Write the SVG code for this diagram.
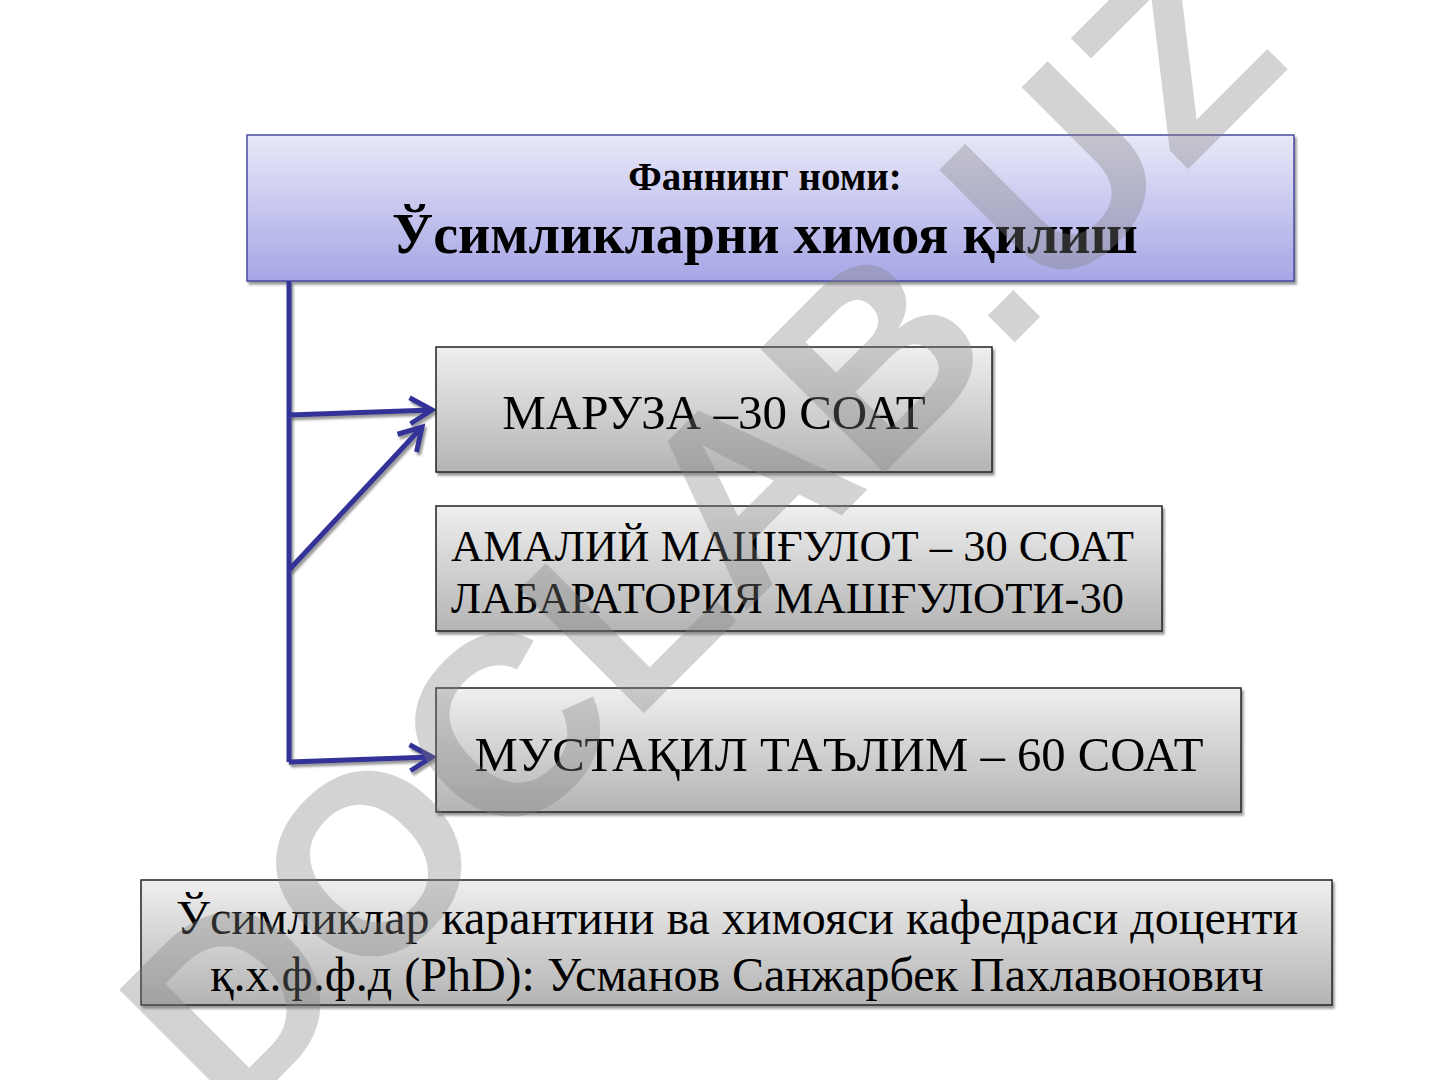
<svg xmlns="http://www.w3.org/2000/svg" width="1440" height="1080" viewBox="0 0 1440 1080">
<defs>
<linearGradient id="gBlue" x1="0" y1="0" x2="0" y2="1">
<stop offset="0" stop-color="#e8e8f8"/>
<stop offset="1" stop-color="#a6a6e6"/>
</linearGradient>
<linearGradient id="gGray" x1="0" y1="0" x2="0" y2="1">
<stop offset="0" stop-color="#efefef"/>
<stop offset="1" stop-color="#b4b4b4"/>
</linearGradient>
<filter id="sh" filterUnits="userSpaceOnUse" x="0" y="0" width="1440" height="1080">
<feDropShadow dx="2" dy="3" stdDeviation="1.2" flood-color="#555" flood-opacity="0.6"/>
</filter>
<marker id="arr" markerUnits="userSpaceOnUse" markerWidth="40" markerHeight="40" viewBox="-30 -20 40 40" refX="0" refY="0" orient="auto">
<path d="M-22,-13 L0,0 L-22,13" fill="none" stroke="#333399" stroke-width="5"/>
</marker>
</defs>
<style>
.box{stroke:#222;stroke-width:1.5;fill:url(#gGray);filter:url(#sh)}
.t{font-family:"Liberation Serif","Times New Roman",serif;fill:#000}
.c{fill:none;stroke:#333399;stroke-width:5;filter:url(#sh)}
</style>
<rect width="1440" height="1080" fill="#fff"/>
<g id="title">
<rect x="247" y="135" width="1047" height="146" fill="url(#gBlue)" stroke="#4a4aa0" stroke-width="1.5" filter="url(#sh)"/>
<text class="t" x="765" y="190" font-size="39" font-weight="bold" text-anchor="middle">Фаннинг номи:</text>
<text class="t" x="765" y="253" font-size="56" font-weight="bold" text-anchor="middle">Ўсимликларни химоя қилиш</text>
</g>
<g id="connectors">
<path class="c" d="M289,281 L289,762"/>
<path class="c" d="M289,415 L432,410" marker-end="url(#arr)"/>
<path class="c" d="M289,570 L422,427" marker-end="url(#arr)"/>
<path class="c" d="M289,762 L432,757" marker-end="url(#arr)"/>
</g>
<g id="maruza">
<rect class="box" x="436" y="347" width="556" height="125"/>
<text class="t" x="714" y="429" font-size="49" text-anchor="middle">МАРУЗА –30 СОАТ</text>
</g>
<g id="amaliy">
<rect class="box" x="436" y="506" width="726" height="125"/>
<text class="t" x="451" y="561" font-size="44.5">АМАЛИЙ МАШҒУЛОТ – 30 СОАТ</text>
<text class="t" x="451" y="613" font-size="44.5">ЛАБАРАТОРИЯ МАШҒУЛОТИ-30</text>
</g>
<g id="mustaqil">
<rect class="box" x="436" y="688" width="805" height="124"/>
<text class="t" x="839" y="771" font-size="48.7" text-anchor="middle">МУСТАҚИЛ ТАЪЛИМ – 60 СОАТ</text>
</g>
<g id="author">
<rect class="box" x="141" y="880" width="1191" height="125"/>
<text class="t" x="737" y="934" font-size="48" text-anchor="middle">Ўсимликлар карантини ва химояси кафедраси доценти</text>
<text class="t" x="737" y="991" font-size="48" text-anchor="middle">қ.х.ф.ф.д (PhD): Усманов Санжарбек Пахлавонович</text>
</g>
<g id="watermark">
<text x="0" y="0" transform="translate(762,595) rotate(-45)" font-family="'Liberation Sans',Arial,sans-serif" font-weight="bold" font-size="255" text-anchor="middle" fill="#808080" fill-opacity="0.35">DOCLAB.UZ</text>
</g>
</svg>
